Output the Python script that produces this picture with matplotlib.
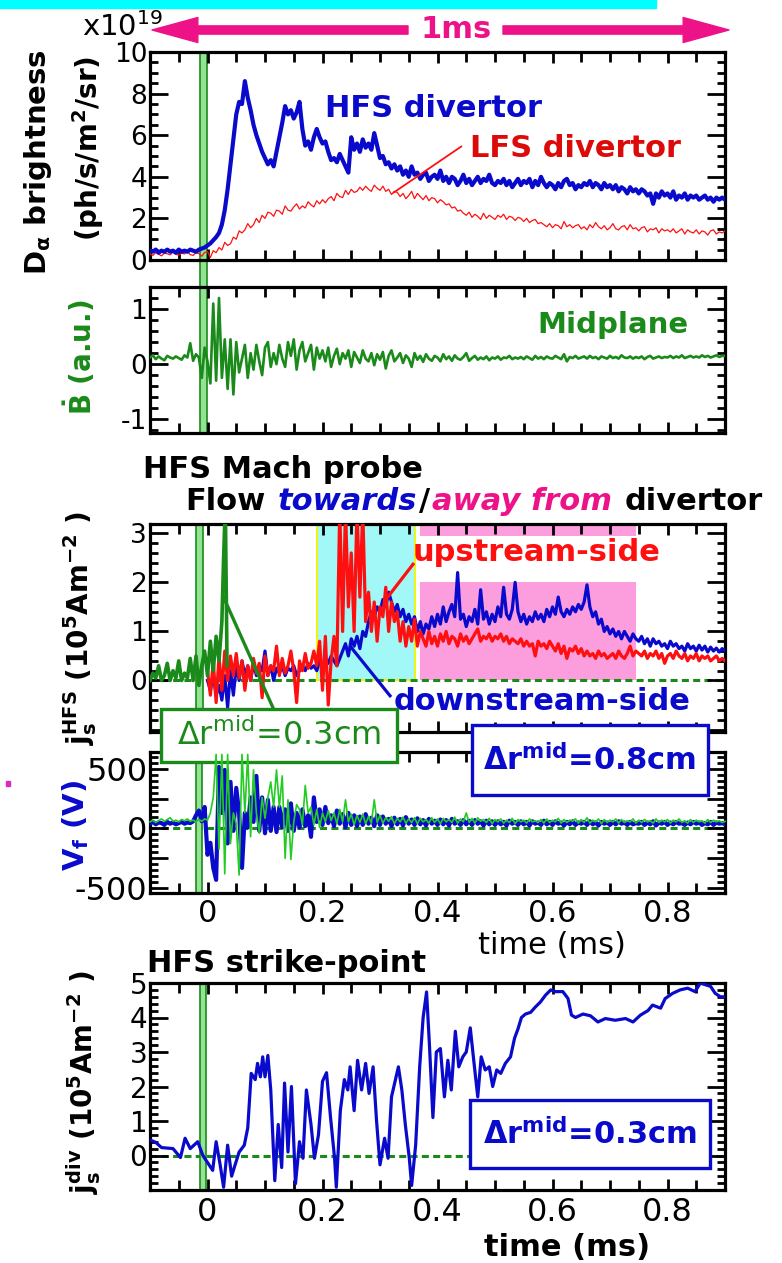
import numpy as np
import matplotlib
matplotlib.use("Agg")
import matplotlib.pyplot as plt
from matplotlib.patches import Rectangle, FancyArrowPatch
from matplotlib.lines import Line2D
from matplotlib.ticker import MultipleLocator, FuncFormatter

plt.rcParams['font.family'] = ['DejaVu Sans']
plt.rcParams['mathtext.default'] = 'regular'
plt.rcParams['axes.unicode_minus'] = False

# ---------------------------------------------------------------- data
# common sampling grid (ms)
t = np.round(np.arange(-0.1, 0.9001, 0.005), 3)

# D-alpha brightness (x1e19 ph/s/m2/sr)
dalpha_hfs = [0.45,0.40,0.50,0.35,0.45,0.40,0.50,0.40,0.45,0.35,
              0.50,0.40,0.45,0.40,0.50,0.45,0.40,0.50,0.55,0.60,
              0.70,0.80,0.95,1.10,1.30,1.70,2.40,3.40,4.60,5.80,
              7.00,7.60,7.50,8.60,7.80,7.20,6.50,6.00,5.60,5.20,
              4.90,4.60,4.80,4.50,5.20,5.90,6.60,7.40,7.00,7.20,
              6.80,7.10,7.60,6.30,5.50,5.70,5.30,5.90,6.30,5.90,
              5.60,5.70,5.20,4.80,4.90,4.70,5.10,4.80,4.50,4.20,
              5.90,5.30,5.60,5.20,5.80,5.40,5.60,5.30,6.10,5.50,
              4.90,5.00,4.60,4.70,4.40,4.60,4.30,4.50,4.10,4.30,
              4.00,4.50,4.10,4.20,3.90,4.10,4.20,3.80,4.00,4.10,
              3.90,4.30,3.80,4.00,3.70,4.00,3.90,3.60,3.80,4.10,
              3.70,3.90,3.60,3.80,4.00,3.70,3.90,3.80,4.10,3.70,
              3.60,3.80,3.70,3.90,3.60,3.80,3.50,3.70,3.90,3.60,
              3.80,3.70,3.90,3.50,3.80,3.60,4.00,3.70,3.50,3.70,
              3.60,3.40,3.70,3.50,3.80,3.90,3.60,3.70,3.40,3.60,
              3.50,3.70,3.60,3.80,3.50,3.70,3.60,3.40,3.70,3.50,
              3.60,3.40,3.60,3.30,3.50,3.40,3.20,3.50,3.30,3.40,
              3.20,3.40,3.30,3.10,3.20,2.70,3.20,3.00,3.30,3.10,
              3.20,3.00,3.30,2.90,3.10,3.00,3.20,2.90,3.10,3.00,
              3.10,2.90,3.00,3.10,2.90,3.00,2.80,3.00,2.90,3.00,
              2.90]
dalpha_lfs = [0.30,0.22,0.35,0.28,0.20,0.33,0.30,0.25,0.38,0.27,
              0.24,0.33,0.29,0.40,0.26,0.22,0.35,0.31,0.18,0.36,
              0.40,0.12,0.45,0.35,0.60,0.48,0.85,0.70,0.78,1.10,
              1.00,1.40,1.30,1.45,1.75,1.55,1.70,2.00,1.80,2.15,
              2.00,2.30,2.25,2.10,2.40,2.35,2.20,2.60,2.40,2.35,
              2.55,2.70,2.45,2.60,2.50,2.80,2.65,2.55,2.85,2.70,
              2.90,2.75,2.95,3.05,2.85,3.20,3.05,3.00,3.35,3.15,
              3.40,3.25,3.30,3.50,3.35,3.55,3.40,3.30,3.60,3.45,
              3.35,3.55,3.30,3.40,3.15,3.30,3.25,3.05,3.20,2.95,
              3.10,3.30,2.95,3.20,3.05,2.90,3.10,2.85,3.00,2.95,
              2.75,2.90,2.80,2.65,2.70,2.50,2.55,2.35,2.40,2.25,
              2.15,2.30,2.05,2.20,2.10,1.95,2.25,2.00,2.15,2.05,
              1.95,2.15,2.05,2.20,1.95,2.10,2.05,1.90,2.05,2.00,
              1.85,2.00,1.80,1.90,1.95,1.75,1.80,1.70,1.60,1.75,
              1.55,1.70,1.65,1.50,1.85,1.60,1.70,1.55,1.65,1.70,
              1.50,1.60,1.45,1.70,1.55,1.80,1.60,1.50,1.65,1.45,
              1.55,1.75,1.50,1.45,1.60,1.65,1.45,1.70,1.50,1.55,
              1.40,1.55,1.60,1.35,1.50,1.45,1.55,1.30,1.50,1.40,
              1.45,1.35,1.50,1.30,1.40,1.50,1.25,1.45,1.35,1.30,
              1.45,1.25,1.40,1.35,1.20,1.40,1.45,1.25,1.35,1.30,
              1.40]

# midplane magnetic pick-up (a.u.)
bdot_mid = [0.12,0.16,0.09,0.14,0.10,0.07,0.15,0.12,0.10,0.14,
            0.11,0.08,0.16,0.12,0.38,0.06,0.18,0.12,-0.25,0.30,
            0.05,-0.35,1.10,-0.30,1.20,-0.25,0.45,-0.45,0.45,-0.55,
            0.40,-0.15,0.10,0.35,-0.25,0.20,-0.10,0.35,0.05,-0.20,
            0.30,0.40,-0.05,0.20,0.00,0.35,0.10,-0.05,0.40,0.15,
            0.45,-0.10,0.25,0.40,0.05,0.20,0.35,-0.10,0.30,0.10,
            0.25,0.05,0.30,-0.05,0.15,0.28,0.00,0.20,0.10,0.25,
            -0.05,0.22,0.12,0.02,0.25,0.10,0.05,0.20,-0.02,0.18,
            0.08,0.22,-0.08,0.15,0.25,0.05,0.12,0.20,0.02,0.16,
            0.10,-0.05,0.20,0.08,0.15,0.04,0.18,0.10,0.06,0.15,
            0.12,0.05,0.18,0.09,0.14,0.06,0.16,0.10,0.08,0.13,
            0.20,0.06,0.11,0.15,0.08,0.12,0.09,0.14,0.07,0.12,
            0.10,0.14,0.08,0.12,0.11,0.15,0.09,0.12,0.10,0.13,
            0.09,0.14,0.11,0.08,0.15,0.10,0.13,0.09,0.14,0.11,
            0.10,0.15,0.12,0.09,0.18,0.05,0.13,0.11,0.15,0.10,
            0.12,0.14,0.10,0.15,0.11,0.13,0.09,0.14,0.12,0.10,
            0.15,0.11,0.13,0.10,0.16,0.12,0.11,0.14,0.10,0.13,
            0.11,0.14,0.09,0.13,0.15,0.10,0.12,0.14,0.11,0.13,
            0.12,0.15,0.11,0.14,0.12,0.16,0.11,0.13,0.15,0.12,
            0.14,0.12,0.16,0.13,0.15,0.12,0.14,0.16,0.13,0.15,
            0.15]

# HFS Mach probe ion saturation current (1e5 A/m2)
t_mach = np.round(np.arange(0.0, 0.9001, 0.005), 3)
js_down = [0.0,-0.2,0.1,-0.3,-0.1,-0.4,0.1,-0.55,0.2,-0.3,
           0.3,0.0,0.4,0.1,0.3,0.0,0.35,0.1,0.3,0.2,
           0.6,0.1,0.3,0.0,0.25,0.15,0.3,0.1,0.25,0.2,
           0.3,0.1,0.2,0.3,0.2,0.35,0.25,0.3,0.2,0.4,
           0.3,0.45,0.35,0.5,0.4,0.3,0.45,0.6,0.75,0.5,
           0.85,0.7,0.9,0.65,1.0,0.9,1.2,1.4,1.3,1.5,
           1.4,1.65,1.5,1.8,1.6,1.4,1.55,1.3,1.45,1.2,
           1.35,1.15,1.3,1.0,1.2,0.95,1.15,1.05,1.3,1.1,
           1.35,1.15,1.5,1.2,1.4,1.55,1.3,2.2,1.25,1.35,
           1.1,1.3,1.2,1.45,1.15,1.85,1.25,1.4,1.15,1.35,
           1.2,1.5,1.3,1.9,1.35,1.25,1.45,2.0,1.4,1.2,
           1.35,1.15,1.3,1.2,1.4,1.25,1.35,1.2,1.45,1.3,
           1.5,1.35,1.7,1.4,1.3,1.45,1.35,1.5,1.4,1.55,
           1.45,1.6,1.95,1.5,1.3,1.4,1.15,1.25,1.0,1.1,
           0.95,1.05,0.9,1.0,0.85,1.0,0.9,0.8,0.95,0.85,
           0.8,0.9,0.75,0.85,0.7,0.85,0.75,0.8,0.7,0.75,
           0.65,0.8,0.7,0.75,0.65,0.7,0.6,0.75,0.65,0.7,
           0.6,0.72,0.62,0.7,0.58,0.68,0.6,0.66,0.58,0.65,
           0.6]
js_up = [0.2,-0.3,0.4,-0.45,0.5,-0.2,0.6,0.0,0.5,0.1,
         0.55,0.05,0.4,-0.2,0.3,0.0,0.45,0.15,0.35,-0.35,
         0.5,0.1,0.3,0.2,0.7,0.1,0.45,0.15,0.3,0.6,
         0.2,-0.45,0.4,0.2,0.55,0.25,0.35,0.6,0.3,0.8,
         -0.2,0.9,-0.5,0.4,0.9,0.3,3.5,1.0,3.5,1.5,
         2.6,1.0,3.5,1.7,3.5,1.2,1.8,1.0,1.6,0.8,
         1.5,1.3,1.9,1.0,1.6,1.2,1.4,0.8,1.2,0.7,
         1.1,0.8,1.25,0.7,1.0,0.85,0.7,1.0,0.75,0.9,
         0.7,0.95,0.8,1.0,0.75,0.9,0.85,0.7,0.95,0.8,
         0.9,0.75,0.85,0.95,1.05,0.8,0.9,0.85,0.95,0.8,
         0.9,0.85,0.95,0.8,0.9,0.75,0.85,0.8,0.75,0.85,
         0.7,0.8,0.7,0.75,0.5,0.8,0.7,0.75,0.65,0.8,
         0.7,0.6,0.75,0.55,0.7,0.45,0.65,0.6,0.7,0.55,
         0.65,0.5,0.6,0.5,0.55,0.45,0.6,0.5,0.55,0.45,
         0.5,0.55,0.45,0.6,0.5,0.45,0.55,0.7,0.5,0.6,
         0.55,0.5,0.6,0.45,0.55,0.5,0.6,0.45,0.55,0.35,
         0.5,0.55,0.45,0.6,0.5,0.45,0.55,0.4,0.5,0.45,
         0.55,0.4,0.5,0.45,0.5,0.4,0.45,0.5,0.4,0.45,
         0.4]
t_js03 = [-0.1,-0.095,-0.09,-0.085,-0.08,-0.075,-0.07,-0.065,-0.06,-0.055,
          -0.05,-0.045,-0.04,-0.035,-0.03,-0.025,-0.02,-0.015,-0.01,-0.005,
          0.0,0.005,0.01,0.015,0.02,0.025,0.028,0.031,0.034]
js_03 = [0.0,0.15,0.05,0.3,0.0,0.1,0.35,0.0,0.2,0.05,
         0.4,0.0,0.15,0.05,0.45,0.0,0.5,-0.1,0.3,0.6,
         0.1,0.8,0.2,0.9,0.4,1.2,2.5,3.6,0.3]

# floating potential (V)
vf_08 = [40,55,35,50,45,30,55,40,50,35,
         45,55,40,50,45,60,110,150,60,180,
         -220,-120,-330,-430,515,130,490,-125,390,-20,
         340,130,-330,130,8,260,55,440,-20,260,
         -40,240,-20,180,-30,180,8,160,-20,210,
         -20,130,8,160,20,110,-70,260,55,160,
         30,180,45,110,20,150,40,120,10,130,
         30,110,20,100,30,120,40,90,20,110,
         30,100,40,80,20,90,35,80,25,95,
         40,75,30,85,35,70,25,80,40,65,
         30,75,35,70,25,80,40,60,30,70,
         35,65,30,70,40,60,25,65,35,60,
         30,60,35,55,25,65,40,55,30,60,
         35,55,25,60,40,50,30,65,35,55,
         30,60,40,50,25,55,35,60,30,50,
         40,55,30,60,35,50,25,55,40,50,
         30,55,35,60,40,50,30,55,35,45,
         40,55,30,50,35,60,25,50,40,55,
         30,50,35,55,40,45,30,50,35,55,
         40,50,30,45,35,55,30,50,40,45,
         35]
vf_03 = [55,70,50,65,80,60,75,90,60,70,
         55,75,65,80,60,70,55,75,60,80,
         70,130,260,620,-175,620,-380,620,-125,130,
         40,-390,620,130,620,-70,490,130,-40,260,
         85,260,390,180,490,180,440,-250,240,-260,
         55,200,160,30,360,130,180,30,160,8,
         130,55,150,65,130,40,160,55,240,55,
         120,30,110,50,120,40,100,45,240,50,
         110,45,90,60,100,40,85,55,95,45,
         80,50,90,40,85,55,75,45,90,50,
         80,40,85,55,75,50,95,45,80,55,
         130,50,85,45,90,60,75,50,85,40,
         75,55,80,45,70,50,85,40,75,55,
         70,45,80,55,65,50,75,45,80,50,
         70,55,85,45,75,50,70,60,80,45,
         75,50,90,45,70,55,80,40,75,50,
         70,55,80,45,75,50,65,55,80,45,
         70,50,75,55,65,45,80,50,70,55,
         75,45,70,55,80,50,65,45,75,50,
         70,55,65,45,75,50,70,55,65,50,
         60]

# HFS strike-point ion saturation current (1e5 A/m2)
t_div = [-0.1,-0.09,-0.08,-0.06,-0.047,-0.039,-0.03,-0.017,-0.008,0.0,
         0.009,0.015,0.022,0.028,0.035,0.042,0.048,0.055,0.064,0.07,
         0.076,0.083,0.087,0.092,0.096,0.1,0.105,0.11,0.117,0.123,
         0.129,0.134,0.14,0.146,0.153,0.16,0.166,0.172,0.18,0.186,
         0.193,0.2,0.207,0.214,0.221,0.224,0.231,0.238,0.244,0.248,
         0.255,0.261,0.268,0.275,0.281,0.288,0.294,0.3,0.308,0.314,
         0.32,0.327,0.332,0.338,0.344,0.351,0.355,0.362,0.369,0.375,
         0.381,0.386,0.392,0.398,0.405,0.412,0.418,0.424,0.431,0.437,
         0.444,0.45,0.457,0.463,0.47,0.476,0.483,0.49,0.496,0.503,
         0.51,0.518,0.527,0.534,0.54,0.546,0.553,0.562,0.57,0.579,
         0.588,0.597,0.605,0.618,0.627,0.633,0.64,0.653,0.666,0.679,
         0.692,0.709,0.727,0.74,0.753,0.766,0.774,0.788,0.796,0.809,
         0.822,0.835,0.848,0.857,0.866,0.875,0.883,0.892,0.9]
js_div = [0.45,0.38,0.23,0.2,-0.06,0.5,0.2,0.4,0.0,-0.2,
          -0.43,0.4,-0.27,-0.92,0.3,-0.6,-0.27,0.1,0.3,0.8,
          2.38,2.2,2.67,2.28,2.86,2.28,2.9,1.9,-0.73,0.9,
          -0.35,2.1,0.1,2.0,-0.82,0.4,-0.08,1.9,0.9,-0.08,
          0.6,2.15,2.4,1.1,-0.08,-0.92,1.3,2.2,1.9,2.57,
          1.3,2.76,1.9,2.67,1.8,2.57,1.0,-0.27,0.5,-0.08,
          1.7,2.2,2.57,1.9,0.9,-0.08,-0.87,0.3,2.57,4.0,
          4.74,3.2,1.1,3.0,3.1,1.7,2.76,1.9,3.6,2.57,
          2.86,3.0,3.7,2.76,1.7,2.86,2.48,2.57,2.0,2.48,
          2.38,2.67,2.86,3.4,3.67,4.0,4.1,4.15,4.3,4.45,
          4.65,4.8,4.75,4.75,4.55,4.07,4.0,4.1,4.05,3.87,
          3.97,3.92,3.97,3.87,4.07,4.2,4.36,4.27,4.55,4.7,
          4.8,4.85,4.75,5.0,4.95,4.9,4.7,4.6,4.6]

# flow-direction intervals (ms) and onset marker time for each panel
towards_span = (0.19, 0.36)
away_span = (0.37, 0.745)
onset_t = [-0.007, -0.007, -0.014, -0.015, -0.008]

# ---------------------------------------------------------------- style
BLUE = '#0a0acc'
RED = '#ff1010'
LFSRED = '#dd0a0a'
DKGREEN = '#1a8a1a'
LIME = '#22cc22'
PINK = '#ee1289'
CYAN = '#a2f7f7'
PINKFILL = '#fc9ede'

W, H = 782, 1263
fig = plt.figure(figsize=(W / 100, H / 100), dpi=100)


def fx(px):
    return px / W


def fy(py):
    return 1 - py / H


def make_axes(top, bot, left=150, right=725):
    return fig.add_axes([fx(left), fy(bot), (right - left) / W, (bot - top) / H])


def style(ax, ylim, ymaj, ymin_, ysize, xlabels=False, xsize=22, yfmt=None):
    ax.set_facecolor('none')
    ax.set_xlim(-0.1, 0.9)
    ax.set_ylim(*ylim)
    for s in ax.spines.values():
        s.set_linewidth(2.3)
    ax.xaxis.set_major_locator(MultipleLocator(0.2))
    ax.xaxis.set_minor_locator(MultipleLocator(0.05))
    ax.yaxis.set_major_locator(MultipleLocator(ymaj))
    ax.yaxis.set_minor_locator(MultipleLocator(ymin_))
    ax.tick_params(which='both', direction='in', top=True, right=True, width=2.0)
    ax.tick_params(axis='y', which='major', length=13, labelsize=ysize, pad=2)
    ax.tick_params(axis='y', which='minor', length=6)
    ax.tick_params(axis='x', which='major', length=8, labelsize=xsize, pad=5)
    ax.tick_params(axis='x', which='minor', length=7)
    ax.tick_params(labelbottom=xlabels)
    ax.xaxis.set_major_formatter(FuncFormatter(
        lambda v, p: '0' if abs(v) < 1e-9 else f'{v:.1f}'))
    if yfmt is not None:
        ax.yaxis.set_major_formatter(FuncFormatter(yfmt))


def onset_band(ax, tc, ymin=0.0):
    ax.axvspan(tc - 0.0055, tc + 0.0055, ymin=ymin, ymax=1, facecolor='#94e294',
               edgecolor=DKGREEN, lw=1.2, zorder=1.5, clip_on=False)


def fig_line(p0, p1, color, lw):
    fig.add_artist(Line2D([fx(p0[0]), fx(p1[0])], [fy(p0[1]), fy(p1[1])],
                          color=color, lw=lw, solid_capstyle='butt'))


def boxed_label(ax, l, t_, r, b, text, color, weight, size):
    ax.add_patch(Rectangle((fx(l), fy(b)), (r - l) / W, (b - t_) / H,
                           transform=fig.transFigure, facecolor='white',
                           edgecolor=color, lw=2.4, clip_on=False, zorder=3))
    ax.text(fx((l + r) / 2), fy((t_ + b) / 2), text, transform=fig.transFigure,
            color=color, fontsize=size, fontweight=weight, ha='center',
            va='center', zorder=6, clip_on=False)


def nonneg(v, p):
    return '' if v < -1e-9 else f'{v:g}'


# ---------------------------------------------------------------- header
fig.patches.append(Rectangle((0, fy(8)), fx(656), 8 / H, color='#00ffff',
                             transform=fig.transFigure))
for x_from, x_to in ((408, 152), (503, 729)):
    fig.patches.append(FancyArrowPatch(
        (fx(x_from), fy(30)), (fx(x_to), fy(30)), transform=fig.transFigure,
        arrowstyle='simple,head_length=1.5,head_width=0.82,tail_width=0.27',
        mutation_scale=22, color=PINK, shrinkA=0, shrinkB=0))
fig.text(fx(456), fy(30), '1ms', color=PINK, fontsize=22, fontweight='bold',
         ha='center', va='center')
fig.text(fx(82), fy(36), 'x10$^{19}$', fontsize=21, ha='left', va='baseline')

# ---------------------------------------------------------------- panel 1
ax1 = make_axes(52, 260)
style(ax1, (0, 10), 2, 0.5, 19)
ax1.plot(t, dalpha_lfs, color=RED, lw=0.9, zorder=3)
ax1.plot(t, dalpha_hfs, color=BLUE, lw=3.0, zorder=4)
onset_band(ax1, onset_t[0], ymin=-0.135)
fig.text(fx(325), fy(117), 'HFS divertor', color=BLUE, fontsize=22,
         fontweight='bold', ha='left', va='baseline')
fig.text(fx(470), fy(157), 'LFS divertor', color=LFSRED, fontsize=22,
         fontweight='bold', ha='left', va='baseline')
fig_line((393, 193), (462, 146), RED, 1.3)
fig.text(fx(38), fy(162), 'D$_{α}$ brightness', rotation=90, fontsize=21,
         fontweight='bold', ha='center', va='center')
fig.text(fx(88), fy(148), '(ph/s/m$^2$/sr)', rotation=90, fontsize=20,
         fontweight='bold', ha='center', va='center')

# ---------------------------------------------------------------- panel 2
ax2 = make_axes(287, 433)
style(ax2, (-1.25, 1.4), 1, 0.2, 19)
ax2.plot(t, bdot_mid, color=DKGREEN, lw=1.9, zorder=3)
onset_band(ax2, onset_t[1])
fig.text(fx(537), fy(333), 'Midplane', color=DKGREEN, fontsize=21,
         fontweight='bold', ha='left', va='baseline')
fig.text(fx(80), fy(357), r'$\dot{B}$ (a.u.)', color=DKGREEN, rotation=90,
         fontsize=20, fontweight='bold', ha='center', va='center')

# ---------------------------------------------------------------- panel 3
ax3 = make_axes(524, 732)
style(ax3, (-1.05, 3.19), 1, 0.2, 19, yfmt=nonneg)
top_fill = 3.15
ax3.fill_between(towards_span, 0, top_fill, color=CYAN, lw=0, zorder=0.5)
for xv in towards_span:
    ax3.plot([xv, xv], [0, top_fill], color='#f2f200', lw=1.3, zorder=0.6)
ax3.plot(towards_span, [0, 0], color='#f2f200', lw=1.3, zorder=0.6)
ax3.fill_between(away_span, 0, 2.0, color=PINKFILL, lw=0, zorder=0.5)
ax3.fill_between(away_span, 2.95, top_fill, color=PINKFILL, lw=0, zorder=0.5)
ax3.axhline(0, color=DKGREEN, lw=2.2, ls=(0, (2.3, 1.4)), zorder=1)
onset_band(ax3, onset_t[2])
ax3.plot(t_mach, js_down, color=BLUE, lw=2.3, zorder=3)
ax3.plot(t_mach, js_up, color=RED, lw=2.3, zorder=3.2)
ax3.plot(t_js03, js_03, color=DKGREEN, lw=2.6, zorder=3.4)

fig.text(fx(143), fy(478), 'HFS Mach probe', fontsize=22, fontweight='bold',
         ha='left', va='baseline')
renderer = fig.canvas.get_renderer()
run_size = 22
space_w = 0.348 * run_size * 100 / 72
x_run = 185
for piece, col, sty in [('Flow', 'black', 'normal'), (' ', None, None),
                        ('towards', BLUE, 'italic'), ('/', 'black', 'normal'),
                        ('away from', PINK, 'italic'), (' ', None, None),
                        ('divertor', 'black', 'normal')]:
    if piece == ' ':
        x_run += space_w
        continue
    tx = fig.text(fx(x_run), fy(510), piece, color=col, fontsize=run_size,
                  fontweight='bold', fontstyle=sty, ha='left', va='baseline')
    x_run += tx.get_window_extent(renderer).width + 2

fig.text(fx(413), fy(561), 'upstream-side', color=RED, fontsize=22,
         fontweight='bold', ha='left', va='baseline')
fig.text(fx(394), fy(710), 'downstream-side', color=BLUE, fontsize=22,
         fontweight='bold', ha='left', va='baseline')
fig_line((387, 598), (414, 563), RED, 2.3)
fig_line((350, 646), (391, 697), BLUE, 2.3)
fig_line((223, 596), (274, 710), DKGREEN, 2.4)
fig.text(fx(80), fy(628), '$j_s^{HFS}$ (10$^5$Am$^{-2}$ )', rotation=90,
         fontsize=20, fontweight='bold', ha='center', va='center')

# ---------------------------------------------------------------- panel 4
ax4 = make_axes(752, 893)
ax4.set_zorder(5)
style(ax4, (-540, 640), 250, 50, 23, xlabels=True, xsize=22,
      yfmt=lambda v, p: f'{int(v)}' if abs(v) % 500 == 0 else '')
ax4.tick_params(axis='x', which='major', pad=4)
ax4.axhline(0, color=DKGREEN, lw=2.2, ls=(0, (2.3, 1.4)), zorder=1)
onset_band(ax4, onset_t[3])
ax4.plot(t, vf_08, color=BLUE, lw=3.0, zorder=3.5)
ax4.plot(t, vf_03, color=LIME, lw=1.2, zorder=4, clip_on=False)
boxed_label(ax4, 161, 709, 397, 762, 'Δr$^{mid}$=0.3cm', DKGREEN, 'normal', 23)
boxed_label(ax4, 472, 725, 708, 795, 'Δr$^{mid}$=0.8cm', BLUE, 'bold', 22)
fig.text(fx(552), fy(946), 'time (ms)', fontsize=22, ha='center', va='center')
fig.text(fx(76), fy(825), 'V$_f$ (V)', color=BLUE, rotation=90, fontsize=21,
         fontweight='bold', ha='center', va='center')
fig.patches.append(Rectangle((fx(6), fy(786)), 4 / W, 5 / H, color='#d52bc8',
                             transform=fig.transFigure))

# ---------------------------------------------------------------- panel 5
ax5 = make_axes(983, 1190)
ax5.set_zorder(4)
style(ax5, (-1, 5), 1, 0.2, 20, xlabels=True, xsize=23, yfmt=nonneg)
ax5.axhline(0, color=DKGREEN, lw=2.2, ls=(0, (2.3, 1.4)), zorder=1)
onset_band(ax5, onset_t[4])
ax5.plot(t_div, js_div, color=BLUE, lw=2.3, zorder=3.5)
boxed_label(ax5, 470, 1100, 710, 1168, 'Δr$^{mid}$=0.3cm', BLUE, 'bold', 22)
fig.text(fx(147), fy(972), 'HFS strike-point', fontsize=22, fontweight='bold',
         ha='left', va='baseline')
fig.text(fx(567), fy(1247), 'time (ms)', fontsize=22, fontweight='bold',
         ha='center', va='center')
fig.text(fx(84), fy(1082), '$j_s^{div}$ (10$^5$Am$^{-2}$ )', rotation=90,
         fontsize=20, fontweight='bold', ha='center', va='center')

fig.savefig('out.png', dpi=100)
